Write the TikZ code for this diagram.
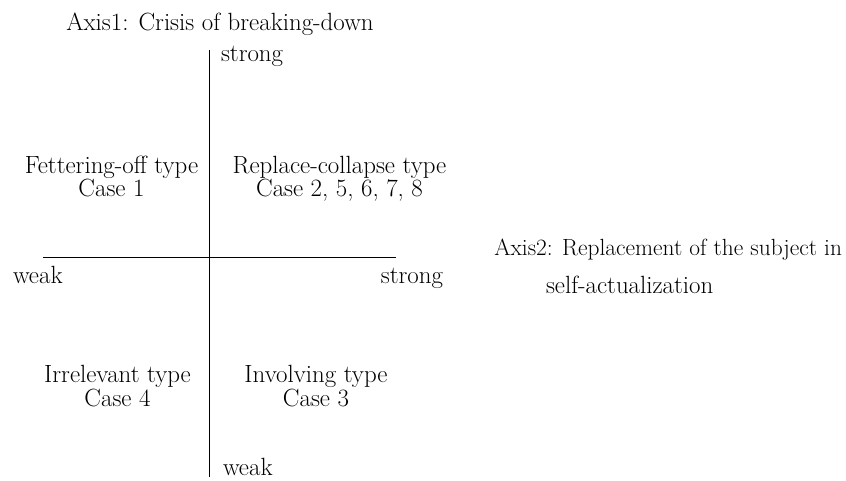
\documentclass[tikz,border=0pt]{standalone}
\begin{document}
\begin{tikzpicture}[x=1pt,y=-1pt,
  lbl/.style={inner sep=0pt,outer sep=0pt,font=\fontsize{24.9}{24}\selectfont},
  axisline/.style={line width=1pt}]
\useasboundingbox (0,0) rectangle (846,481);
% axes
\coordinate (vt) at (209,50);
\coordinate (vb) at (209,477);
\coordinate (hl) at (43,257);
\coordinate (hr) at (396,257);
\draw[axisline] (vt) -- (vb);
\draw[axisline] (hl) -- (hr);
% titles
\node[lbl,anchor=base] (ax1) at (220,31) {Axis1: Crisis of breaking-down};
\node[lbl,anchor=base east,font=\fontsize{23.4}{24}\selectfont] (ax2a) at (842,255) {Axis2: Replacement of the subject in};
\node[lbl,anchor=base west] (ax2b) at (546,293) {self-actualization};
% axis ends
\node[lbl,anchor=base west] (vstrong) at (221,62) {strong};
\node[lbl,anchor=base west] (vweak) at (223,475) {weak};
\node[lbl,anchor=base west] (hweak) at (13,283) {weak};
\node[lbl,anchor=base east] (hstrong) at (443,283) {strong};
% quadrants
\node[lbl,anchor=base,align=center] (q1) at (111.5,197) {Fettering-off type\\Case 1};
\node[lbl,anchor=base,align=center] (q2) at (339.5,197) {Replace-collapse type\\Case 2, 5, 6, 7, 8};
\node[lbl,anchor=base,align=center] (q3) at (117.5,406) {Irrelevant type\\Case 4};
\node[lbl,anchor=base,align=center] (q4) at (316,406) {Involving type\\Case 3};
\end{tikzpicture}
\end{document}
